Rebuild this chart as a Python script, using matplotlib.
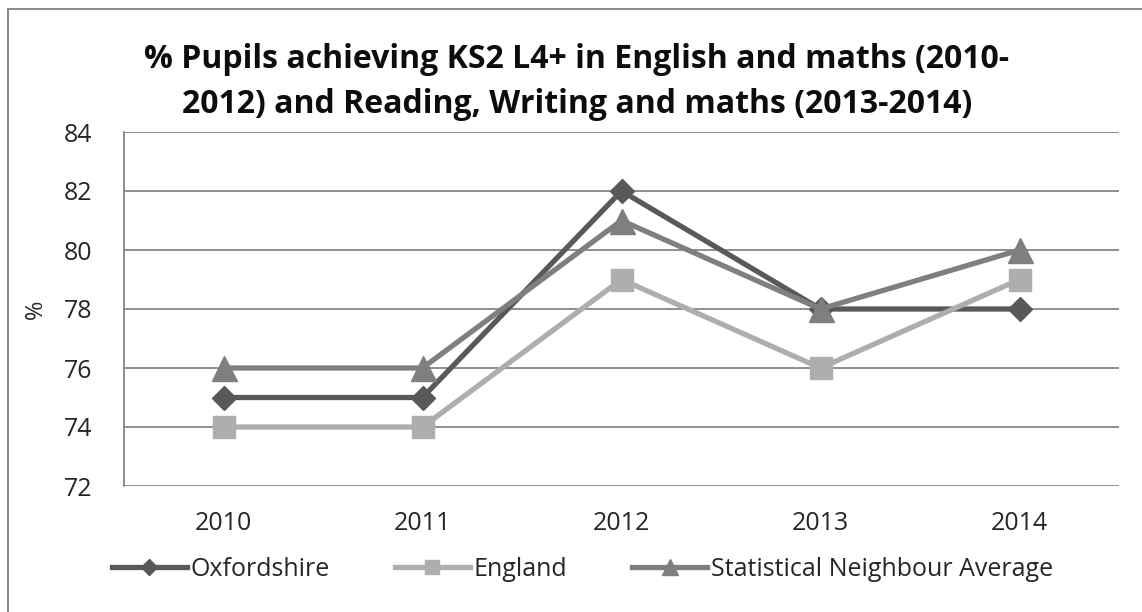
import matplotlib
matplotlib.use("Agg")
import matplotlib.pyplot as plt
from matplotlib.patches import Rectangle

years = ["2010", "2011", "2012", "2013", "2014"]
oxfordshire = [75, 75, 82, 78, 78]
england = [74, 74, 79, 76, 79]
stat_neighbour = [76, 76, 81, 78, 80]
yticks = [72, 74, 76, 78, 80, 82, 84]

plt.rcParams['font.family'] = ['Open Sans', 'DejaVu Sans']

fig = plt.figure(figsize=(11.42, 6.12), dpi=100)
ax = fig.add_axes([124/1142, 1-486/612, (1119-124)/1142, (486-132)/612])

x = list(range(len(years)))
ax.plot(x, oxfordshire, color='#595959', lw=3.8, marker='D', ms=12, label='Oxfordshire', zorder=3)
ax.plot(x, england, color='#aeaeae', lw=3.8, marker='s', ms=16, label='England', zorder=3)
ax.plot(x, stat_neighbour, color='#7f7f7f', lw=3.8, marker='^', ms=18, label='Statistical Neighbour Average', zorder=4)

ax.set_xlim(-0.5, len(years) - 0.5)
ax.set_ylim(72, 84)
ax.set_yticks(yticks)
ax.set_xticks(x)
ax.set_xticklabels(years)
ax.tick_params(axis='both', length=0, labelsize=18, colors='#262626')
ax.tick_params(axis='y', pad=23)
ax.tick_params(axis='x', pad=18)
ax.yaxis.grid(True, color='#868686', lw=1.3)
ax.set_axisbelow(True)
for s in ['top', 'right', 'bottom']:
    ax.spines[s].set_visible(False)
ax.spines['left'].set_color('#868686')
ax.spines['left'].set_linewidth(1.3)

ax.set_ylabel('%', fontsize=17, color='#262626', labelpad=11)

fig.text(0.505, 1-82/612, '% Pupils achieving KS2 L4+ in English and maths (2010-\n2012) and Reading, Writing and maths (2013-2014)',
         ha='center', va='center', fontsize=23, fontweight='bold', linespacing=1.5, color='#0d0d0d')

leg = fig.legend(loc='center', bbox_to_anchor=(0.51, 1-569/612), ncol=3, frameon=False,
                 fontsize=18, handlelength=3.0, handletextpad=0.15, columnspacing=2.6,
                 markerscale=0.65)
for t in leg.get_texts():
    t.set_color('#262626')

fig.patches.append(Rectangle((8/1142, -0.1), 1.2, (612-9)/612 + 0.1, transform=fig.transFigure,
                             fill=False, edgecolor='#8c8c8c', lw=1.5))

fig.savefig('out.png', dpi=100)
